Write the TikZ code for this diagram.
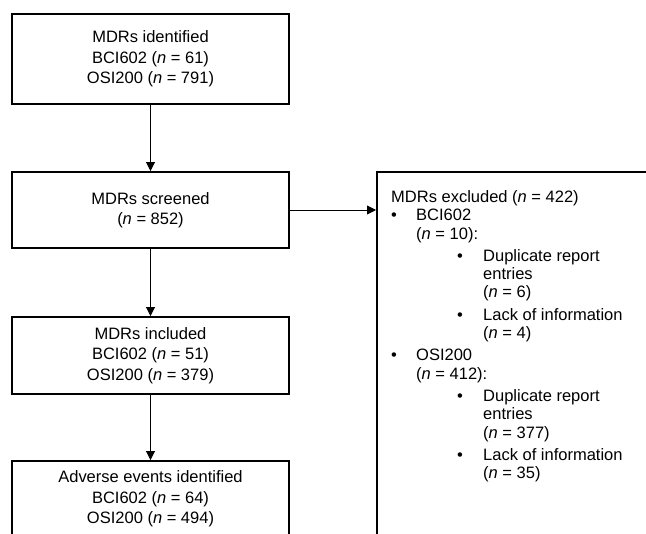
\documentclass[tikz,border=0pt]{standalone}
\usepackage{fontspec}
\setmainfont{Liberation Sans}
\usetikzlibrary{arrows.meta}
\begin{document}
\begin{tikzpicture}[x=1pt,y=-1pt,
  box/.style={draw, line width=1.9pt, minimum width=277pt, align=center, inner sep=0pt,
    font=\fontsize{16.5}{20.5}\selectfont},
  arr/.style={line width=0.9pt, -{Triangle[width=9pt,length=9pt]}}]
\useasboundingbox (0,0) rectangle (646,534);
\clip (0,0) rectangle (646,534);
\node[box, minimum height=90pt] (b1) at (150.5,59) {MDRs identified\\BCI602 (\textit{n} = 61)\\OSI200 (\textit{n} = 791)};
\node[box, minimum height=76pt] (b2) at (150.5,210) {MDRs screened\\(\textit{n} = 852)};
\node[box, minimum height=77pt] (b3) at (150.5,355.5) {MDRs included\\BCI602 (\textit{n} = 51)\\OSI200 (\textit{n} = 379)};
\node[box, minimum height=76pt] (b4) at (150.5,499) {Adverse events identified\\BCI602 (\textit{n} = 64)\\OSI200 (\textit{n} = 494)};
\node[draw, line width=1.9pt, minimum width=294pt, minimum height=389pt, anchor=north west, inner sep=0pt] (ex) at (376,171) {};
\node[anchor=base west, inner sep=0pt, font=\fontsize{16.5}{18.3}\selectfont] (extext) at (391,202.5) {%
\begin{tabular}[t]{@{}l@{}l@{}l@{}}
\multicolumn{3}{@{}l@{}}{MDRs excluded (\textit{n} = 422)}\\
\makebox[25pt][l]{\textbullet} & \multicolumn{2}{@{}l@{}}{BCI602}\\
 & \multicolumn{2}{@{}l@{}}{(\textit{n} = 10):}\\[4pt]
 & \makebox[67pt][l]{\hspace{41pt}\textbullet} & Duplicate report\\
 & & entries\\
 & & (\textit{n} = 6)\\[4pt]
 & \makebox[67pt][l]{\hspace{41pt}\textbullet} & Lack of information\\
 & & (\textit{n} = 4)\\[4pt]
\makebox[25pt][l]{\textbullet} & \multicolumn{2}{@{}l@{}}{OSI200}\\
 & \multicolumn{2}{@{}l@{}}{(\textit{n} = 412):}\\[4pt]
 & \makebox[67pt][l]{\hspace{41pt}\textbullet} & Duplicate report\\
 & & entries\\
 & & (\textit{n} = 377)\\[4pt]
 & \makebox[67pt][l]{\hspace{41pt}\textbullet} & Lack of information\\
 & & (\textit{n} = 35)\\
\end{tabular}};
\draw[arr] (b1) -- (b2);
\draw[arr] (b2) -- (b3);
\draw[arr] (b3) -- (b4);
\draw[arr] (b2.east) -- (b2.east -| ex.west);
\end{tikzpicture}
\end{document}
